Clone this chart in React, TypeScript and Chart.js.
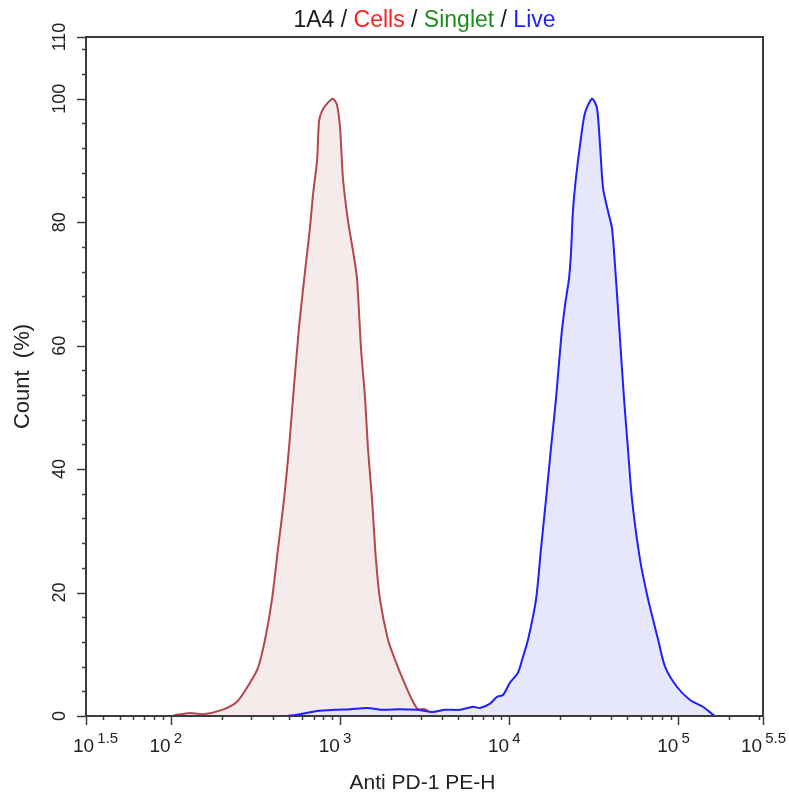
import React, { useEffect, useRef } from 'react';
import { Chart, registerables } from 'chart.js';

Chart.register(...registerables);

// x values are log10 of fluorescence intensity (Anti PD-1 PE-H)
const controlLog = [2.008, 2.038, 2.114, 2.191, 2.304, 2.392, 2.469, 2.516, 2.558, 2.599, 2.634, 2.67, 2.699, 2.723, 2.758, 2.794, 2.823, 2.841, 2.865, 2.877, 2.894, 2.924, 2.959, 2.983, 3.001, 3.018, 3.048, 3.078, 3.101, 3.125, 3.149, 3.166, 3.19, 3.213, 3.237, 3.284, 3.326, 3.373, 3.432, 3.462, 3.503, 3.55, 3.592];
const controlCount = [0, 0.2, 0.5, 0.3, 1.0, 2.3, 5.4, 7.8, 12.4, 18.9, 27.0, 35.1, 43.3, 51.4, 62.8, 72.0, 79.0, 84.4, 89.9, 96.4, 98.0, 99.2, 100, 99.0, 95.3, 87.2, 80.2, 75.3, 70.9, 59.5, 51.4, 43.3, 35.1, 25.4, 18.9, 12.4, 9.1, 5.9, 2.3, 1.1, 1.1, 0.2, 0];

const sampleLog = [2.688, 2.764, 2.865, 2.971, 3.06, 3.16, 3.255, 3.355, 3.456, 3.55, 3.621, 3.71, 3.787, 3.828, 3.887, 3.928, 3.964, 4.005, 4.052, 4.082, 4.112, 4.159, 4.188, 4.218, 4.247, 4.277, 4.307, 4.33, 4.354, 4.366, 4.377, 4.395, 4.419, 4.448, 4.49, 4.519, 4.537, 4.555, 4.584, 4.608, 4.631, 4.655, 4.679, 4.702, 4.726, 4.773, 4.821, 4.88, 4.921, 4.992, 5.069, 5.145, 5.205, 5.217];
const sampleCount = [0, 0.3, 0.8, 1.0, 1.1, 1.3, 1.0, 1.1, 1.0, 0.65, 1.0, 1.0, 1.5, 1.3, 2.0, 3.1, 3.4, 5.4, 7.0, 9.6, 12.4, 18.9, 27.0, 35.1, 43.3, 51.4, 61.1, 66.5, 70.9, 75.3, 81.8, 87.2, 92.5, 97.7, 100, 98.5, 92.5, 85.5, 81.8, 79.0, 70.9, 61.1, 51.4, 43.3, 35.1, 25.4, 18.9, 12.4, 8.0, 4.7, 2.6, 1.5, 0.2, 0];

const xTickValues = [1.5, 2, 3, 4, 5, 5.5];
const xTickExponents = ['1.5', '2', '3', '4', '5', '5.5'];
const yTickValues = [0, 20, 40, 60, 80, 100, 110];
const yTickLabels = ['0', '20', '40', '60', '80', '100', '110'];

const titleParts = ['1A4', ' / ', 'Cells', ' / ', 'Singlet', ' / ', 'Live'];
const titleColors = ['#1a1a1a', '#1a1a1a', '#ff1f1f', '#1a1a1a', '#1f8c1f', '#1a1a1a', '#1f1fff'];
const xTitle = 'Anti PD-1 PE-H';
const yTitle = 'Count  (%)';

const FONT = "'Liberation Sans', Arial, sans-serif";

const axesPlugin = {
  id: 'flowAxes',
  afterDraw(chart: any) {
    const { ctx, chartArea: a, scales } = chart;
    const x = scales.x;
    const y = scales.y;
    ctx.save();
    ctx.strokeStyle = '#3c3c3c';
    ctx.lineWidth = 2;
    ctx.beginPath();
    ctx.moveTo(a.left, a.top);
    ctx.lineTo(a.left, a.bottom);
    ctx.lineTo(a.right, a.bottom);
    ctx.lineTo(a.right, a.top);
    ctx.closePath();
    ctx.stroke();

    // y ticks
    ctx.lineWidth = 1.5;
    ctx.beginPath();
    for (let v = 0; v <= 108; v += 4) {
      if (v % 20 === 0) continue;
      const py = Math.round(y.getPixelForValue(v)) + 0.5;
      ctx.moveTo(a.left - 4, py);
      ctx.lineTo(a.left, py);
    }
    yTickValues.forEach((v) => {
      const py = Math.round(y.getPixelForValue(v)) + 0.5;
      ctx.moveTo(a.left - 9, py);
      ctx.lineTo(a.left, py);
    });
    // x ticks
    for (let d = 1; d <= 5; d++) {
      for (let m = 2; m <= 9; m++) {
        const lv = d + Math.log10(m);
        if (lv <= 1.5 || lv >= 5.5) continue;
        const px = Math.round(x.getPixelForValue(lv)) + 0.5;
        ctx.moveTo(px, a.bottom);
        ctx.lineTo(px, a.bottom + 4);
      }
    }
    xTickValues.forEach((v) => {
      const px = Math.round(x.getPixelForValue(v)) + 0.5;
      ctx.moveTo(px, a.bottom);
      ctx.lineTo(px, a.bottom + 9);
    });
    ctx.stroke();

    // y tick labels (rotated)
    ctx.fillStyle = '#222';
    ctx.font = `18px ${FONT}`;
    ctx.textAlign = 'center';
    ctx.textBaseline = 'alphabetic';
    yTickValues.forEach((v, i) => {
      const py = y.getPixelForValue(v);
      ctx.save();
      ctx.translate(a.left - 21, py);
      ctx.rotate(-Math.PI / 2);
      ctx.fillText(yTickLabels[i], 0, 0);
      ctx.restore();
    });

    // x tick labels: 10^n
    ctx.textAlign = 'left';
    const baseFont = `19px ${FONT}`;
    const expFont = `15px ${FONT}`;
    xTickValues.forEach((v, i) => {
      const px = x.getPixelForValue(v);
      ctx.font = baseFont;
      const wb = ctx.measureText('10').width;
      ctx.font = expFont;
      const we = ctx.measureText(xTickExponents[i]).width;
      let start = px - wb;
      if (start < 73) start = 73;
      if (start + wb + 3 + we > 786) start = 786 - (wb + 3 + we);
      ctx.font = baseFont;
      ctx.fillText('10', start, a.bottom + 36);
      ctx.font = expFont;
      ctx.fillText(xTickExponents[i], start + wb + 3, a.bottom + 27);
    });

    // axis titles
    ctx.font = `21px ${FONT}`;
    ctx.textAlign = 'center';
    ctx.fillText(xTitle, (a.left + a.right) / 2 - 2, 789);
    ctx.font = `22px ${FONT}`;
    ctx.save();
    ctx.translate(29, (a.top + a.bottom) / 2);
    ctx.rotate(-Math.PI / 2);
    ctx.fillText(yTitle, 0, 0);
    ctx.restore();

    // title
    ctx.font = `23px ${FONT}`;
    ctx.textAlign = 'left';
    const widths = titleParts.map((t) => ctx.measureText(t).width);
    const total = widths.reduce((s, w) => s + w, 0);
    let tx = (a.left + a.right) / 2 - total / 2;
    titleParts.forEach((t, i) => {
      ctx.fillStyle = titleColors[i];
      ctx.fillText(t, tx, 27);
      tx += widths[i];
    });
    ctx.restore();
  },
};

export default function App() {
  const ref = useRef<HTMLCanvasElement | null>(null);
  useEffect(() => {
    document.body.style.margin = '0';
    const canvas = ref.current;
    if (!canvas) return;
    const chart = new Chart(canvas, {
      type: 'line',
      data: {
        datasets: [
          {
            label: 'Anti PD-1',
            data: sampleLog.map((v, i) => ({ x: v, y: sampleCount[i] })),
            borderColor: '#1f1fff',
            backgroundColor: 'rgba(228, 228, 252, 0.9)',
            borderWidth: 2,
            pointRadius: 0,
            tension: 0.25,
            fill: 'origin',
          },
          {
            label: 'Isotype',
            data: controlLog.map((v, i) => ({ x: v, y: controlCount[i] })),
            borderColor: '#b8444e',
            backgroundColor: 'rgba(240, 222, 222, 0.6)',
            borderWidth: 2,
            pointRadius: 0,
            tension: 0.25,
            fill: 'origin',
          },
        ],
      },
      options: {
        responsive: false,
        animation: false,
        devicePixelRatio: 1,
        layout: { padding: { left: 86, right: 26, top: 37, bottom: 78 } },
        plugins: { legend: { display: false }, tooltip: { enabled: false }, title: { display: false } },
        scales: {
          x: { type: 'linear', min: 1.5, max: 5.5, display: false },
          y: { type: 'linear', min: 0, max: 110, display: false },
        },
      },
      plugins: [axesPlugin],
    });
    return () => chart.destroy();
  }, []);
  return <canvas ref={ref} width={789} height={794} style={{ display: 'block' }} />;
}
